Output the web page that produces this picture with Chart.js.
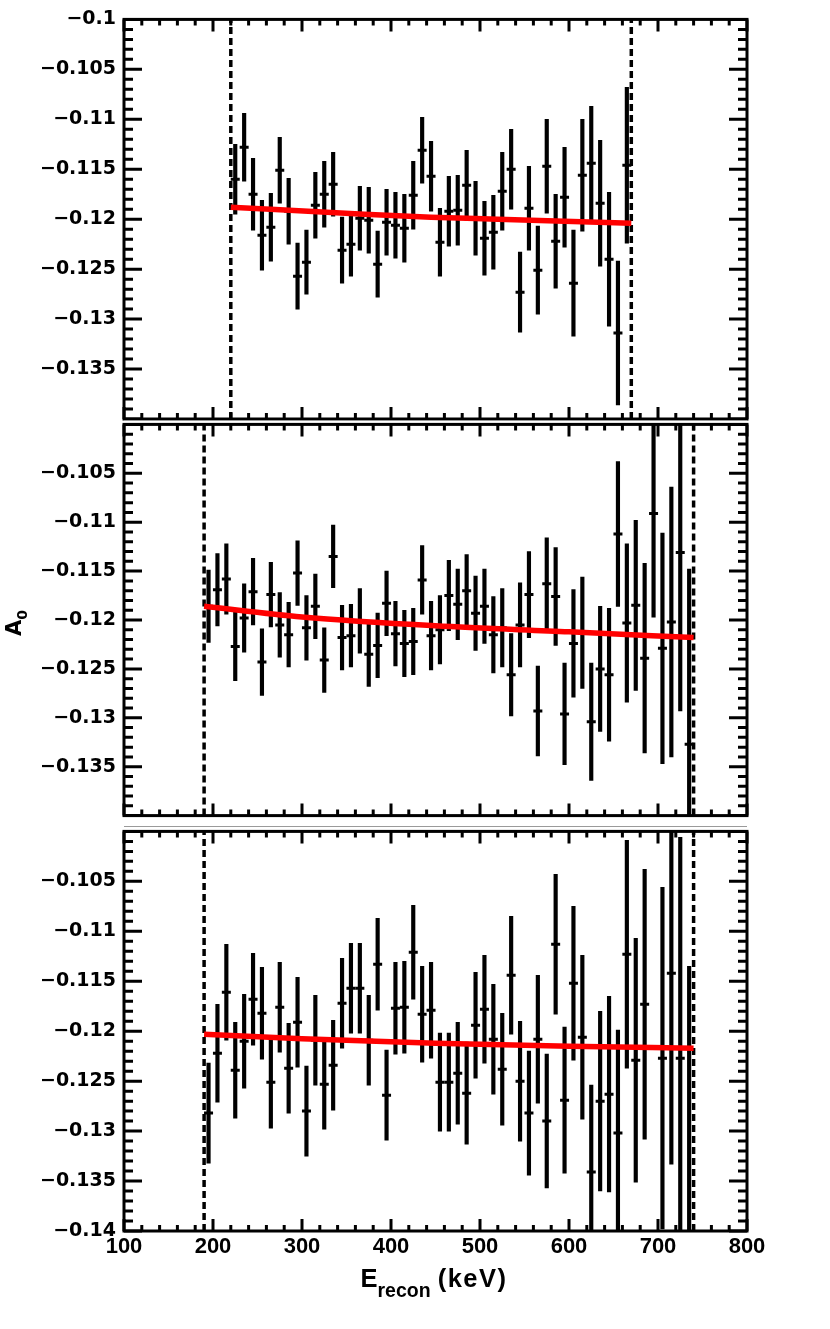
<!DOCTYPE html>
<html>
<head>
<meta charset="utf-8">
<script src="https://cdn.jsdelivr.net/npm/chart.js@4.4.0/dist/chart.umd.min.js"></script>
<style>
html,body{margin:0;padding:0;background:#fff;}
body{width:830px;height:1329px;position:relative;overflow:hidden;}
canvas{position:absolute;left:0;}
.t{position:absolute;font-family:"Liberation Sans",Arial,sans-serif;font-weight:bold;color:#000;white-space:nowrap;}
.sep{position:absolute;left:124px;width:623px;background:#9a9a9a;}
</style>
</head>
<body>
<canvas id="c1" width="830" height="440" style="top:0px"></canvas>
<canvas id="c2" width="830" height="430" style="top:405px"></canvas>
<canvas id="c3" width="830" height="517" style="top:812px"></canvas>
<div class="sep" style="top:420px;height:1px"></div>
<div class="sep" style="top:826px;height:1px"></div>
<div class="t" style="left:284px;top:1263px;width:300px;text-align:center;font-size:25.5px;line-height:30px;">E<span style="font-size:19.5px;position:relative;top:10px;">recon</span> <span style="letter-spacing:1.5px">(keV)</span></div>
<div class="t" style="left:-16px;top:608px;width:60px;height:30px;line-height:30px;text-align:center;transform:rotate(-90deg);font-family:'DejaVu Sans';font-size:21px;">A<span style="font-size:14px;position:relative;top:6px;">0</span></div>
<script>
// ---------- axes ----------
const X_MIN = 100, X_MAX = 800;
const X_TICKS = [100, 200, 300, 400, 500, 600, 700, 800];
const Y_MIN = -0.14, Y_MAX = -0.1;
const Y_TICKS_TOP = [-0.1, -0.105, -0.11, -0.115, -0.12, -0.125, -0.13, -0.135];
const Y_TICKS_MID = [-0.105, -0.11, -0.115, -0.12, -0.125, -0.13, -0.135];
const Y_TICKS_BOT = [-0.105, -0.11, -0.115, -0.12, -0.125, -0.13, -0.135, -0.14];

// ---------- top panel ----------
const E_TOP = [225,235,245,255,265,275,285,295,305,315,325,335,345,355,365,375,385,395,405,415,425,435,445,455,465,475,485,495,505,515,525,535,545,555,565,575,585,595,605,615,625,635,645,655,665];
const A_TOP = [-0.1160,-0.1128,-0.1175,-0.1216,-0.1208,-0.1151,-0.1192,-0.1257,-0.1243,-0.1186,-0.1175,-0.1165,-0.1231,-0.1225,-0.1199,-0.1201,-0.1245,-0.1203,-0.1206,-0.1209,-0.1176,-0.1131,-0.1157,-0.1223,-0.1192,-0.1191,-0.1166,-0.1199,-0.1219,-0.1213,-0.1172,-0.1150,-0.1273,-0.1189,-0.1251,-0.1147,-0.1222,-0.1178,-0.1264,-0.1156,-0.1144,-0.1184,-0.1240,-0.1314,-0.1146];
const ERR_TOP = [0.0035,0.0034,0.0036,0.0035,0.0034,0.0033,0.0033,0.0033,0.0032,0.0033,0.0033,0.0032,0.0033,0.0032,0.0032,0.0033,0.0033,0.0033,0.0033,0.0034,0.0034,0.0033,0.0035,0.0034,0.0035,0.0035,0.0035,0.0037,0.0037,0.0037,0.0039,0.0040,0.0040,0.0042,0.0044,0.0047,0.0047,0.0050,0.0053,0.0056,0.0057,0.0063,0.0067,0.0072,0.0078];
const FIT_E_TOP = [220, 370, 445, 520, 670];
const FIT_A_TOP = [-0.1188, -0.1195, -0.1198, -0.1200, -0.1204];
const RANGE_TOP = [220, 670];

// ---------- middle and bottom panels ----------
const E_WIDE = [195,205,215,225,235,245,255,265,275,285,295,305,315,325,335,345,355,365,375,385,395,405,415,425,435,445,455,465,475,485,495,505,515,525,535,545,555,565,575,585,595,605,615,625,635,645,655,665,675,685,695,705,715,725,735];
const A_MID = [-0.1186,-0.1169,-0.1158,-0.1227,-0.1198,-0.1171,-0.1243,-0.1174,-0.1205,-0.1215,-0.1152,-0.1208,-0.1186,-0.1241,-0.1135,-0.1218,-0.1216,-0.1201,-0.1235,-0.1226,-0.1183,-0.1214,-0.1224,-0.1222,-0.1159,-0.1216,-0.1210,-0.1175,-0.1184,-0.1170,-0.1193,-0.1186,-0.1215,-0.1208,-0.1256,-0.1205,-0.1174,-0.1293,-0.1163,-0.1176,-0.1296,-0.1224,-0.1213,-0.1304,-0.1250,-0.1256,-0.1112,-0.1203,-0.1185,-0.1239,-0.1091,-0.1229,-0.1202,-0.1131,-0.1327];
const ERR_MID = [0.0037,0.0037,0.0036,0.0035,0.0035,0.0034,0.0034,0.0033,0.0033,0.0033,0.0033,0.0033,0.0033,0.0033,0.0032,0.0033,0.0032,0.0033,0.0033,0.0033,0.0033,0.0033,0.0034,0.0034,0.0035,0.0035,0.0035,0.0036,0.0036,0.0037,0.0038,0.0038,0.0039,0.0040,0.0042,0.0043,0.0044,0.0046,0.0047,0.0050,0.0052,0.0055,0.0057,0.0060,0.0064,0.0068,0.0074,0.0081,0.0087,0.0097,0.0106,0.0118,0.0138,0.0162,0.0179];
const A_BOT = [-0.1282,-0.1222,-0.1161,-0.1239,-0.1210,-0.1168,-0.1182,-0.1251,-0.1176,-0.1237,-0.1191,-0.1280,-0.1209,-0.1253,-0.1234,-0.1172,-0.1157,-0.1157,-0.1209,-0.1133,-0.1264,-0.1177,-0.1176,-0.1121,-0.1183,-0.1179,-0.1251,-0.1251,-0.1242,-0.1262,-0.1194,-0.1178,-0.1208,-0.1238,-0.1144,-0.1250,-0.1282,-0.1208,-0.1290,-0.1113,-0.1269,-0.1152,-0.1206,-0.1341,-0.1270,-0.1263,-0.1302,-0.1123,-0.1229,-0.1173,null,-0.1227,-0.1142,-0.1227,-0.1425];
const ERR_BOT = [0.0050,0.0049,0.0048,0.0048,0.0047,0.0046,0.0046,0.0046,0.0045,0.0045,0.0045,0.0045,0.0045,0.0045,0.0045,0.0045,0.0045,0.0045,0.0045,0.0046,0.0045,0.0046,0.0046,0.0047,0.0048,0.0048,0.0049,0.0049,0.0051,0.0051,0.0053,0.0054,0.0055,0.0056,0.0059,0.0060,0.0062,0.0064,0.0067,0.0070,0.0073,0.0077,0.0082,0.0087,0.0090,0.0098,0.0103,0.0114,0.0122,0.0135,null,0.0171,0.0191,0.0221,0.0290];
const FIT_E_WIDE = [190, 300, 450, 600, 740];
const FIT_A_MID = [-0.1186, -0.1197, -0.1206, -0.1212, -0.1218];
const FIT_A_BOT = [-0.1203, -0.12075, -0.1212, -0.1215, -0.1217];
const RANGE_WIDE = [190, 740];

// ---------- frame + inward ticks (ROOT style), drawn from the chart's scales ----------
const frameTicks = {
  id: 'frameTicks',
  afterDatasetsDraw(chart) {
    const { ctx, chartArea: a, scales: { x, y } } = chart;
    ctx.save();
    ctx.strokeStyle = '#000';
    ctx.lineWidth = 3;
    ctx.lineCap = 'butt';
    ctx.beginPath();
    for (let v = X_MIN; v <= X_MAX; v += 20) {
      const px = x.getPixelForValue(v);
      const len = (v % 100 === 0) ? 12 : 6;
      ctx.moveTo(px, a.top); ctx.lineTo(px, a.top + len);
      ctx.moveTo(px, a.bottom); ctx.lineTo(px, a.bottom - len);
    }
    for (let k = 0; k <= 40; k++) {
      const py = y.getPixelForValue(Y_MIN + k * 0.001);
      const len = (k % 5 === 0) ? 18 : 9;
      ctx.moveTo(a.left, py); ctx.lineTo(a.left + len, py);
      ctx.moveTo(a.right, py); ctx.lineTo(a.right - len, py);
    }
    ctx.stroke();
    ctx.strokeRect(a.left, a.top, a.right - a.left, a.bottom - a.top);
    ctx.restore();
  }
};

function fmtY(v) {
  return '\u2212' + String(Math.abs(v));
}

function makePanel(id, p) {
  const bars = [], marks = [];
  p.e.forEach((x, i) => {
    if (p.a[i] === null) return;
    bars.push({ x: x, y: [p.a[i] - p.err[i], p.a[i] + p.err[i]] });
    marks.push({ x: x, y: p.a[i] });
  });
  const datasets = [
    { type: 'line', data: p.fitE.map((x, i) => ({ x: x, y: p.fitA[i] })),
      borderColor: '#ff0000', borderWidth: 5.5, pointRadius: 0, fill: false,
      cubicInterpolationMode: 'monotone', order: 0 },
    { type: 'scatter', data: marks, pointStyle: 'line', pointRadius: 4.5,
      pointBorderWidth: 3, pointBorderColor: '#000', pointBackgroundColor: '#000',
      pointHoverRadius: 4.5, order: 1 },
    { type: 'bar', data: bars, backgroundColor: '#000', borderWidth: 0,
      barThickness: 3.5, order: 2 }
  ];
  p.range.forEach(r => datasets.push({
    type: 'line', data: [{ x: r, y: Y_MIN }, { x: r, y: Y_MAX }],
    borderColor: '#000', borderWidth: 3.5, borderDash: [7, 4], pointRadius: 0,
    fill: false, order: 3
  }));
  return new Chart(document.getElementById(id), {
    type: 'scatter',
    data: { datasets },
    plugins: [frameTicks],
    options: {
      responsive: false,
      devicePixelRatio: 1,
      animation: false,
      events: [],
      layout: { autoPadding: false, padding: { left: 0, right: 83, top: p.padTop, bottom: p.padBottom } },
      plugins: { legend: { display: false }, tooltip: { enabled: false } },
      scales: {
        x: {
          type: 'linear', position: 'bottom', min: X_MIN, max: X_MAX, offset: false,
          grid: { display: false, drawTicks: false },
          border: { display: false },
          ticks: {
            display: p.showX, stepSize: 100, padding: 3, autoSkip: false, maxRotation: 0,
            color: '#000', font: { family: 'Liberation Sans', weight: 'bold', size: 22 },
            callback: v => X_TICKS.includes(v) ? String(v) : null
          },
          afterFit: s => { s.height = p.xH; }
        },
        y: {
          type: 'linear', position: 'left', min: Y_MIN, max: Y_MAX,
          grid: { display: false, drawTicks: false },
          border: { display: false },
          ticks: {
            stepSize: 0.005, padding: 8, autoSkip: false,
            color: '#000', font: { family: 'DejaVu Sans', weight: 'bold', size: 19 },
            callback: v => {
              const r = Math.round(v * 1000) / 1000;
              return p.yTicks.includes(r) ? fmtY(r) : null;
            }
          },
          afterFit: s => { s.width = 124; }
        }
      }
    }
  });
}

makePanel('c1', { e: E_TOP, a: A_TOP, err: ERR_TOP, fitE: FIT_E_TOP, fitA: FIT_A_TOP,
  range: RANGE_TOP, yTicks: Y_TICKS_TOP, showX: false, xH: 0, padTop: 18, padBottom: 21 });
makePanel('c2', { e: E_WIDE, a: A_MID, err: ERR_MID, fitE: FIT_E_WIDE, fitA: FIT_A_MID,
  range: RANGE_WIDE, yTicks: Y_TICKS_MID, showX: false, xH: 0, padTop: 17, padBottom: 11 });
makePanel('c3', { e: E_WIDE, a: A_BOT, err: ERR_BOT, fitE: FIT_E_WIDE, fitA: FIT_A_BOT,
  range: RANGE_WIDE, yTicks: Y_TICKS_BOT, showX: true, xH: 40, padTop: 17, padBottom: 58 });
</script>
</body>
</html>
